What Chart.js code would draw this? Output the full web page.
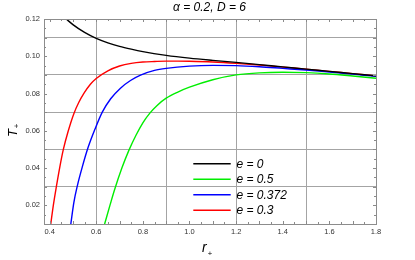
<!DOCTYPE html>
<html><head><meta charset="utf-8">
<style>html,body{margin:0;padding:0;background:#fff}</style>
<script src="https://cdn.jsdelivr.net/npm/chart.js@4/dist/chart.umd.min.js"></script>
</head><body>
<canvas id="c" width="415" height="260"></canvas>
<script>
// ---- data ----
const seriesLabels = ['e = 0', 'e = 0.5', 'e = 0.372', 'e = 0.3'];
const seriesColors = ['#000000', '#00ee00', '#0000ff', '#ff0000'];

const rE0 = [0.471,0.5,0.55,0.6,0.65,0.7,0.75,0.8,0.9,1.0,1.1,1.2,1.3,1.4,1.5,1.6,1.7,1.8];
const tE0 = [0.1200,0.1170,0.1128,0.1096,0.1072,0.1053,0.1038,0.1025,0.1005,0.0990,0.0978,0.0967,0.0955,0.0943,0.0931,0.0919,0.0907,0.0895];

const rE05 = [0.636,0.66,0.679,0.71,0.74,0.77,0.80,0.83,0.86,0.9,0.95,1.0,1.1,1.2,1.3,1.4,1.5,1.6,1.7,1.8];
const tE05 = [0.01,0.0205,0.0285,0.0400,0.0495,0.0575,0.0643,0.0695,0.0735,0.0775,0.0808,0.0834,0.0874,0.0900,0.0911,0.0914,0.0912,0.0905,0.0894,0.0882];

const rE0372 = [0.491,0.504,0.519,0.54,0.565,0.596,0.626,0.662,0.704,0.747,0.79,0.85,0.9,1.0,1.1,1.2,1.3,1.4,1.5,1.6,1.7,1.8];
const tE0372 = [0.01,0.0215,0.0305,0.0405,0.051,0.0613,0.07,0.0772,0.0829,0.0870,0.0899,0.0924,0.0935,0.0947,0.0951,0.0950,0.0944,0.0935,0.0926,0.0915,0.0904,0.0893];

const rE03 = [0.405,0.416,0.429,0.443,0.459,0.479,0.504,0.525,0.547,0.575,0.6,0.65,0.7,0.75,0.8,0.85,0.9,0.95,1.0,1.1,1.2,1.3,1.4,1.5,1.6,1.7,1.8];
const tE03 = [0.01,0.02,0.03,0.04,0.05,0.0595,0.0692,0.0752,0.0801,0.0850,0.0881,0.0922,0.0948,0.0962,0.0969,0.0972,0.0974,0.0974,0.0973,0.0969,0.0962,0.0953,0.0942,0.0931,0.0919,0.0907,0.0895];

const xLabelTicks = [0.4,0.6,0.8,1.0,1.2,1.4,1.6,1.8];
const xGridLines = [0.6,0.9,1.2,1.5];
const yLabelTicks = [0.02,0.04,0.06,0.08,0.10,0.12];
const yGridLines = [0.03,0.05,0.07,0.09,0.11];

const titleText = 'α = 0.2, D = 6';

// ---- chart ----
const rs = [rE0, rE05, rE0372, rE03];
const ts = [tE0, tE05, tE0372, tE03];
const datasets = seriesLabels.map((lab, i) => ({
  label: lab,
  data: rs[i].map((r, j) => ({x: r, y: ts[i][j]})),
  borderColor: seriesColors[i],
  borderWidth: 1.4,
  pointRadius: 0,
  fill: false,
  cubicInterpolationMode: 'monotone'
}));

const k = v => Math.round(v * 1000);
const xAll = Array.from(new Set([...xLabelTicks, ...xGridLines].map(k))).sort((a,b)=>a-b).map(v=>v/1000);
const yAll = Array.from(new Set([...yLabelTicks, ...yGridLines].map(k))).sort((a,b)=>a-b).map(v=>v/1000);
const GRID = '#a4a4a4';
const tickFont = {family: '"Liberation Sans", Arial, sans-serif', size: 7.5};

const decor = {
  id: 'decor',
  afterDraw(chart) {
    const c = chart.ctx, a = chart.chartArea;
    const xs = chart.scales.x, ys = chart.scales.y;
    c.save();
    // minor ticks
    c.strokeStyle = '#8a8a8a';
    c.lineWidth = 1;
    c.beginPath();
    for (let i = 8; i <= 36; i++) {
      const v = i * 0.05;
      const px = Math.round(xs.getPixelForValue(v)) + 0.5;
      const len = (i % 2 === 0) ? 3 : 2;
      c.moveTo(px, a.bottom); c.lineTo(px, a.bottom - len);
      c.moveTo(px, a.top); c.lineTo(px, a.top + len);
    }
    for (let i = 2; i <= 24; i++) {
      const v = i * 0.005;
      const py = Math.round(ys.getPixelForValue(v)) + 0.5;
      const len = (i % 2 === 0) ? 3 : 2;
      c.moveTo(a.left, py); c.lineTo(a.left + len, py);
      c.moveTo(a.right, py); c.lineTo(a.right - len, py);
    }
    c.stroke();
    // frame
    c.strokeStyle = '#8c8c8c';
    c.strokeRect(Math.round(a.left) + 0.5, Math.round(a.top) + 0.5, Math.round(a.right - a.left), Math.round(a.bottom - a.top));

    // title
    c.fillStyle = '#000';
    c.font = 'italic 12px "Liberation Sans", Arial, sans-serif';
    c.textAlign = 'center';
    c.textBaseline = 'middle';
    c.fillText(titleText, 209.5, 8);

    // x title r+
    c.textAlign = 'left';
    c.textBaseline = 'alphabetic';
    c.font = 'italic 14px "Liberation Sans", Arial, sans-serif';
    c.fillText('r', 202, 252);
    c.font = 'italic 8px "Liberation Sans", Arial, sans-serif';
    c.fillText('+', 207.5, 256);

    // y title T+
    c.save();
    c.translate(17, 137);
    c.rotate(-Math.PI / 2);
    c.font = 'italic 13px "Liberation Sans", Arial, sans-serif';
    c.fillText('T', 0, 0);
    c.font = 'italic 8px "Liberation Sans", Arial, sans-serif';
    c.fillText('+', 8.5, 2);
    c.restore();

    // legend
    const rowsY = [163.7, 179.3, 194.8, 210.3];
    c.font = 'italic 12px "Liberation Sans", Arial, sans-serif';
    c.textBaseline = 'middle';
    seriesLabels.forEach((lab, i) => {
      c.strokeStyle = seriesColors[i];
      c.lineWidth = 1.4;
      c.beginPath();
      c.moveTo(193.3, rowsY[i]); c.lineTo(230.7, rowsY[i]);
      c.stroke();
      c.fillStyle = '#000';
      c.fillText(lab, 236.5, rowsY[i] + 0.5);
    });
    c.restore();
  }
};

new Chart(document.getElementById('c'), {
  type: 'line',
  data: {datasets},
  plugins: [decor],
  options: {
    responsive: false,
    animation: false,
    devicePixelRatio: 1,
    layout: {padding: {left: 0, right: 39, top: 19, bottom: 0}},
    plugins: {legend: {display: false}, tooltip: {enabled: false}, title: {display: false}},
    scales: {
      x: {
        type: 'linear', min: 0.376, max: 1.8,
        afterFit(s) { s.height = 36; },
        afterBuildTicks(s) { s.ticks = xAll.map(v => ({value: v})); },
        ticks: {
          autoSkip: false, maxRotation: 0, padding: 3,
          color: '#333', font: tickFont,
          callback: v => xLabelTicks.some(t => k(t) === k(v)) ? v.toFixed(1) : ''
        },
        grid: {
          drawTicks: false,
          lineWidth: 1,
          color: ctx => (ctx.tick && xGridLines.some(t => k(t) === k(ctx.tick.value))) ? GRID : 'rgba(0,0,0,0)'
        },
        border: {display: false}
      },
      y: {
        type: 'linear', min: 0.01, max: 0.12,
        afterFit(s) { s.width = 44; },
        afterBuildTicks(s) { s.ticks = yAll.map(v => ({value: v})); },
        ticks: {
          autoSkip: false, padding: 4,
          color: '#333', font: tickFont,
          callback: v => yLabelTicks.some(t => k(t) === k(v)) ? v.toFixed(2) : ''
        },
        grid: {
          drawTicks: false,
          lineWidth: 1,
          color: ctx => (ctx.tick && yGridLines.some(t => k(t) === k(ctx.tick.value))) ? GRID : 'rgba(0,0,0,0)'
        },
        border: {display: false}
      }
    }
  }
});
</script>
</body></html>
